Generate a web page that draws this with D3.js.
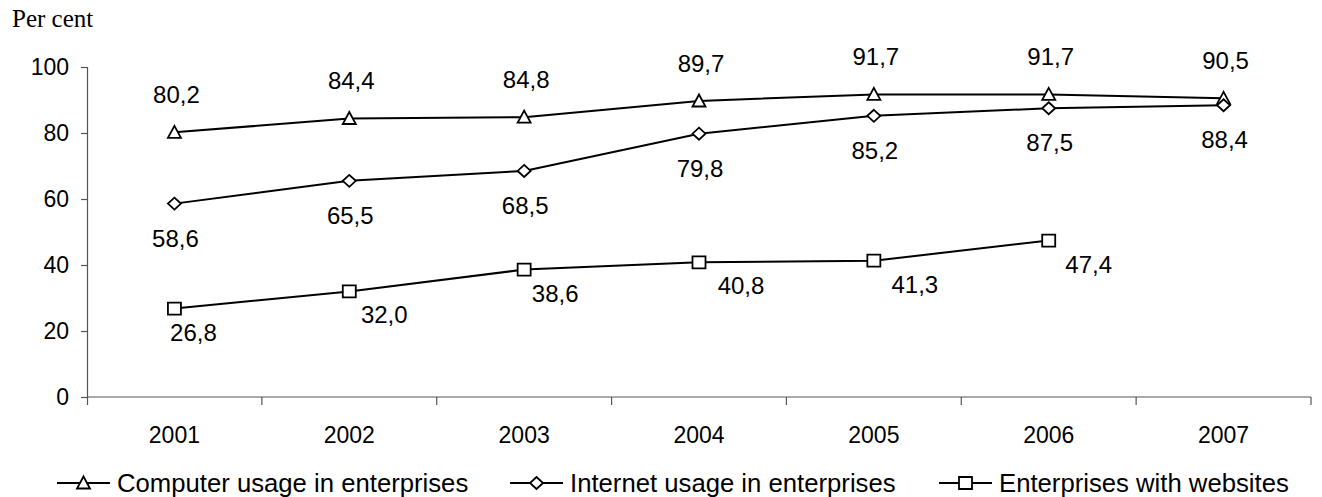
<!DOCTYPE html>
<html>
<head>
<meta charset="utf-8">
<script src="https://cdn.jsdelivr.net/npm/d3@7"></script>
<style>
  body { margin: 0; background: #fff; }
</style>
</head>
<body>
<svg id="chart"></svg>
<script>
// categories and series
const years = ["2001", "2002", "2003", "2004", "2005", "2006", "2007"];
const computerUsage = [80.2, 84.4, 84.8, 89.7, 91.7, 91.7, 90.5];
const internetUsage = [58.6, 65.5, 68.5, 79.8, 85.2, 87.5, 88.4];
const withWebsites = [26.8, 32.0, 38.6, 40.8, 41.3, 47.4];
const yTicks = [0, 20, 40, 60, 80, 100];
const seriesNames = ["Computer usage in enterprises", "Internet usage in enterprises", "Enterprises with websites"];

// label nudges for the websites series (labels sit right-below the point)
const webLabelDx = [19, 35, 31, 42, 41, 40];

const width = 1322, height = 497;
const margin = { top: 67, right: 11, bottom: 100, left: 87 };

const svg = d3.select("#chart")
  .attr("width", width)
  .attr("height", height)
  .style("font-family", "'Liberation Sans', Arial, sans-serif");

const fmt = v => d3.format(".1f")(v).replace(".", ",");

const scaleX = d3.scaleBand()
  .domain(years)
  .range([margin.left, width - margin.right])
  .padding(0);

const scaleY = d3.scaleLinear()
  .domain([0, 100])
  .range([height - margin.bottom, margin.top]);

const cx = y => scaleX(y) + scaleX.bandwidth() / 2;

// "Per cent" title
svg.append("text")
  .attr("x", 12)
  .attr("y", 27)
  .style("font-family", "'Liberation Serif', 'Times New Roman', serif")
  .style("font-size", "25px")
  .text("Per cent");

// y axis
svg.append("g")
  .attr("transform", `translate(${margin.left},0)`)
  .call(d3.axisLeft(scaleY).tickValues(yTicks).tickSize(6).tickPadding(12).tickSizeOuter(0))
  .call(g => g.select(".domain").attr("stroke", "#555").attr("stroke-width", 1.2)
    .attr("d", `M0.5,${scaleY(100)}V${scaleY(0) + 8}`))
  .call(g => g.selectAll(".tick line").attr("stroke", "#555").attr("stroke-width", 1.2))
  .call(g => g.selectAll(".tick text").attr("fill", "#000").style("font-size", "23px")
    .style("font-family", "'Liberation Sans', Arial, sans-serif"));

// x axis with ticks between categories
const xAxis = svg.append("g")
  .attr("transform", `translate(0,${scaleY(0)})`);
xAxis.append("line")
  .attr("x1", margin.left).attr("x2", width - margin.right)
  .attr("stroke", "#555").attr("stroke-width", 1.2);
xAxis.selectAll("line.tk")
  .data(years.slice(1).concat(["end"]))
  .join("line")
  .attr("class", "tk")
  .attr("x1", (d, i) => i < years.length - 1 ? scaleX(d) : width - margin.right)
  .attr("x2", (d, i) => i < years.length - 1 ? scaleX(d) : width - margin.right)
  .attr("y1", 0).attr("y2", 8)
  .attr("stroke", "#555").attr("stroke-width", 1.2);
xAxis.selectAll("text")
  .data(years)
  .join("text")
  .attr("x", d => cx(d))
  .attr("y", 46)
  .attr("text-anchor", "middle")
  .style("font-size", "23px")
  .text(d => d);

// series
const line = d3.line()
  .x((d, i) => cx(years[i]))
  .y(d => scaleY(d));

const series = [
  { key: seriesNames[0], values: computerUsage, marker: "triangle" },
  { key: seriesNames[1], values: internetUsage, marker: "diamond" },
  { key: seriesNames[2], values: withWebsites, marker: "square" }
];

const symbolPath = {
  triangle: "M0,-6.5L6.5,5.5L-6.5,5.5Z",
  diamond: "M0,-6L6.5,0L0,6L-6.5,0Z",
  square: "M-6.5,-6H6.5V6H-6.5Z"
};

series.forEach(s => {
  svg.append("path")
    .attr("fill", "none")
    .attr("stroke", "#000")
    .attr("stroke-width", 2)
    .attr("d", line(s.values));
});

series.forEach(s => {
  svg.append("g")
    .selectAll("path")
    .data(s.values)
    .join("path")
    .attr("transform", (d, i) => `translate(${cx(years[i])},${scaleY(d)})`)
    .attr("d", symbolPath[s.marker])
    .attr("fill", "#fff")
    .attr("stroke", "#000")
    .attr("stroke-width", 1.8);
});

// data labels
const labels = svg.append("g").style("font-size", "24px");
labels.selectAll("text.comp")
  .data(computerUsage)
  .join("text")
  .attr("class", "comp")
  .attr("x", (d, i) => cx(years[i]) + 2)
  .attr("y", d => scaleY(d) - 29)
  .attr("text-anchor", "middle")
  .text(fmt);
labels.selectAll("text.inet")
  .data(internetUsage)
  .join("text")
  .attr("class", "inet")
  .attr("x", (d, i) => cx(years[i]) + 1)
  .attr("y", d => scaleY(d) + 43)
  .attr("text-anchor", "middle")
  .text(fmt);
labels.selectAll("text.web")
  .data(withWebsites)
  .join("text")
  .attr("class", "web")
  .attr("x", (d, i) => cx(years[i]) + webLabelDx[i])
  .attr("y", d => scaleY(d) + 32)
  .attr("text-anchor", "middle")
  .text(fmt);

// legend
const legendX = [57, 510, 939];
const legend = svg.append("g")
  .attr("transform", `translate(0,${height - 14})`)
  .selectAll("g")
  .data(series)
  .join("g")
  .attr("transform", (d, i) => `translate(${legendX[i]},0)`);
legend.append("line")
  .attr("x1", 0).attr("x2", 53)
  .attr("stroke", "#000").attr("stroke-width", 2);
legend.append("path")
  .attr("transform", "translate(26.5,0)")
  .attr("d", d => symbolPath[d.marker])
  .attr("fill", "#fff")
  .attr("stroke", "#000")
  .attr("stroke-width", 1.8);
legend.append("text")
  .attr("x", 60)
  .attr("dy", "0.35em")
  .style("font-size", "25.7px")
  .text(d => d.key);
</script>
</body>
</html>
